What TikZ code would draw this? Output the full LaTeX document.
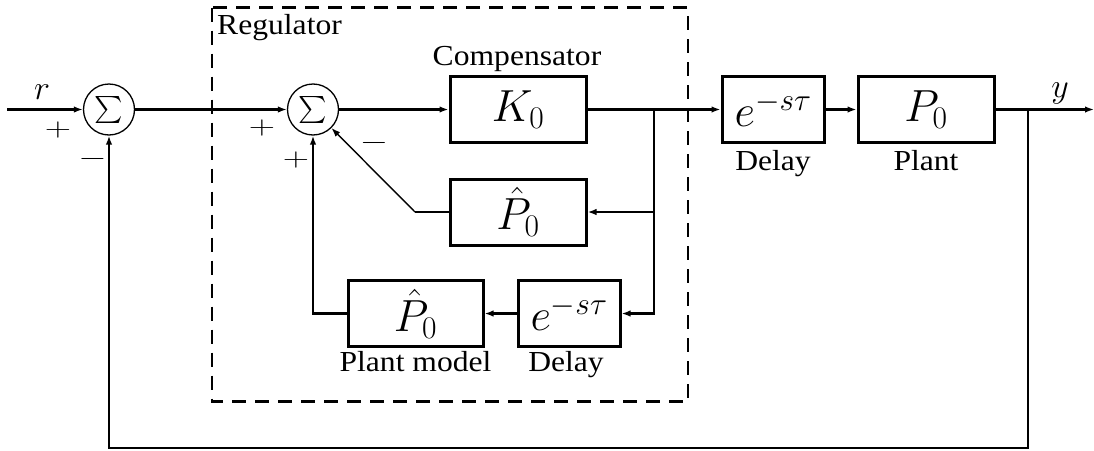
\RequirePackage{fix-cm}
\documentclass[tikz,border=0pt]{standalone}
\usepackage{fontspec}
\usepackage{graphicx}
\setmainfont{Liberation Serif}[FakeStretch=1.09]
\usetikzlibrary{arrows.meta}
\begin{document}
\begin{tikzpicture}[x=1pt,y=-1pt,
  blk/.style={draw,line width=3pt,minimum width=#1,minimum height=66pt,inner sep=0pt,font=\fontsize{45}{50}\selectfont},
  sumc/.style={draw,circle,line width=1.3pt,minimum size=51pt,inner sep=0pt,font=\fontsize{10}{12}\selectfont},
  conn/.style={line width=2.4pt},
  arr/.style={conn,-{Latex[length=9pt,width=6.5pt]}},
  thinarr/.style={line width=1.4pt,-{Latex[length=9pt,width=6.5pt]}},
  lbl/.style={font=\fontsize{29}{32}\selectfont,inner sep=0pt,anchor=base},
  mlbl/.style={font=\fontsize{34}{38}\selectfont,inner sep=0pt,anchor=base},
  sgn/.style={font=\fontsize{26}{28}\selectfont,inner sep=0pt},
  frame/.style={line width=2.2pt,dash pattern=on 14pt off 9pt}
]
\useasboundingbox (0,0) rectangle (1094,450);

% dashed regulator frame
\draw[frame] (212,7.5) rectangle (688,401.5);
\node[lbl,anchor=base west] (reglbl) at (217,34) {Regulator};

% summing junctions
\node[sumc] (s1) at (109,109.5) {\scalebox{2.7}{$\sum$}};
\node[sumc] (s2) at (313,109.5) {\scalebox{2.7}{$\sum$}};

% blocks
\node[blk=136] (K0) at (518,109.5) {$K_0$};
\node[blk=136] (Ph) at (518,212) {$\hat{P}_0$};
\node[blk=135] (pm) at (415.5,313.5) {$\hat{P}_0$};
\node[blk=102] (d2) at (569,313.5) {$e^{-s\tau}$};
\node[blk=102] (d1) at (773,109.5) {$e^{-s\tau}$};
\node[blk=136] (pl) at (926,109.5) {$P_0$};

% labels
\node[lbl] (lc) at (517,65) {Compensator};
\node[lbl] (ld1) at (773,170) {Delay};
\node[lbl] (lpl) at (926,170) {Plant};
\node[lbl] (lpm) at (415.5,371) {Plant model};
\node[lbl] (ld2) at (566,371) {Delay};
\node[mlbl] (lr) at (42,99) {$r$};
\node[mlbl] (ly) at (1060,97) {$y$};

% signs
\node[sgn] (p1) at (58,130) {\scalebox{1.4}[1]{$+$}};
\node[sgn] (m1) at (92.5,159) {\scalebox{1.4}[1]{$-$}};
\node[sgn] (p2) at (262,128) {\scalebox{1.4}[1]{$+$}};
\node[sgn] (p3) at (296,160) {\scalebox{1.4}[1]{$+$}};
\node[sgn] (m2) at (374,143) {\scalebox{1.4}[1]{$-$}};

% coordinates
\coordinate (in) at (7,109.5);
\coordinate (out) at (1094,109.5);
\coordinate (b1) at (654,109.5);
\coordinate (b2) at (1028,109.5);
\coordinate (c2) at (1028,448);
\coordinate (dg) at (415,212);

% connectors
\draw[arr] (in) -- (s1);
\draw[arr] (s1) -- (s2);
\draw[arr] (s2) -- (K0);
\draw[arr] (K0) -- (d1);
\draw[arr] (d1) -- (pl);
\draw[arr] (pl) -- (out);
\draw[arr] (b1) |- (Ph.east);
\draw[arr] (b1) |- (d2.east);
\draw[arr] (d2) -- (pm);
\draw[arr] (pm.west) -| (s2.south);
\draw[conn] (Ph.west) -- (dg);
\draw[thinarr] (dg) -- (s2);
\draw[arr] (b2) -- (c2) -| (s1.south);
\end{tikzpicture}
\end{document}
